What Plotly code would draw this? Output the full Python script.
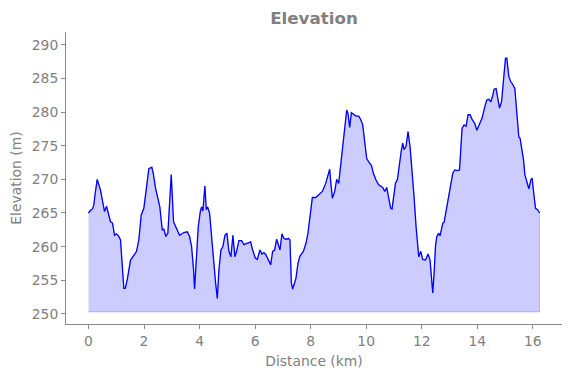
import plotly.graph_objects as go

distance_km = [
    0.000, 0.072, 0.144, 0.191, 0.241, 0.314, 0.432, 0.505, 0.577, 0.649,
    0.721, 0.793, 0.865, 0.937, 1.009, 1.081, 1.153, 1.225, 1.272, 1.323,
    1.395, 1.514, 1.632, 1.730, 1.813, 1.899, 1.993, 2.090, 2.173, 2.281,
    2.332, 2.414, 2.569, 2.656, 2.714, 2.786, 2.858, 2.919, 2.980, 3.063,
    3.135, 3.279, 3.434, 3.557, 3.640, 3.712, 3.784, 3.820, 3.881, 3.953,
    4.025, 4.072, 4.119, 4.191, 4.241, 4.288, 4.360, 4.432, 4.505, 4.577,
    4.638, 4.696, 4.768, 4.840, 4.912, 4.984, 5.056, 5.128, 5.200, 5.272,
    5.344, 5.416, 5.514, 5.596, 5.719, 5.838, 5.910, 6.007, 6.079, 6.173,
    6.245, 6.317, 6.389, 6.486, 6.559, 6.631, 6.703, 6.775, 6.822, 6.894,
    6.966, 7.038, 7.110, 7.207, 7.254, 7.305, 7.351, 7.423, 7.470, 7.542,
    7.614, 7.737, 7.831, 7.903, 7.953, 8.000, 8.061, 8.180, 8.299, 8.422,
    8.541, 8.624, 8.685, 8.721, 8.782, 8.865, 8.937, 9.009, 9.081, 9.153,
    9.225, 9.297, 9.344, 9.405, 9.467, 9.560, 9.632, 9.730, 9.802, 9.874,
    9.946, 10.018, 10.090, 10.187, 10.259, 10.353, 10.450, 10.523, 10.595, 10.667,
    10.739, 10.811, 10.883, 10.930, 10.980, 11.052, 11.124, 11.196, 11.268, 11.315,
    11.362, 11.434, 11.506, 11.578, 11.650, 11.723, 11.795, 11.845, 11.892, 11.964,
    12.036, 12.133, 12.227, 12.299, 12.350, 12.396, 12.443, 12.494, 12.541, 12.613,
    12.660, 12.710, 12.757, 12.804, 12.865, 12.948, 13.020, 13.071, 13.117, 13.189,
    13.286, 13.359, 13.405, 13.452, 13.524, 13.596, 13.668, 13.741, 13.813, 13.910,
    13.982, 14.079, 14.173, 14.270, 14.342, 14.414, 14.486, 14.559, 14.605, 14.677,
    14.728, 14.800, 14.872, 14.944, 15.016, 15.063, 15.135, 15.207, 15.279, 15.351,
    15.423, 15.495, 15.542, 15.593, 15.665, 15.712, 15.784, 15.856, 15.928, 15.975,
    16.025, 16.097, 16.170, 16.242,
]

elevation_m = [
    265.0, 265.4, 265.6, 266.2, 267.9, 270.0, 268.4, 266.7, 265.2, 266.0,
    265.0, 263.7, 263.5, 261.7, 261.9, 261.6, 261.0, 256.5, 253.8, 253.8,
    255.1, 258.0, 258.8, 259.3, 261.0, 264.7, 265.7, 268.9, 271.6, 271.8,
    270.9, 268.7, 265.9, 262.5, 262.6, 261.5, 262.0, 266.4, 270.7, 263.7,
    263.0, 261.7, 262.1, 262.2, 261.5, 260.0, 256.5, 253.7, 258.0, 263.0,
    265.2, 265.9, 265.3, 269.0, 265.5, 265.9, 265.0, 262.0, 258.0, 254.6,
    252.3, 256.5, 259.5, 260.0, 261.7, 262.0, 259.3, 258.5, 261.7, 258.5,
    259.5, 260.9, 260.9, 260.3, 260.5, 260.7, 259.5, 258.3, 258.1, 259.5,
    258.9, 259.1, 258.8, 257.8, 257.3, 259.3, 259.5, 261.1, 260.5, 259.5,
    261.9, 261.2, 261.1, 261.2, 261.0, 254.6, 253.7, 254.9, 255.3, 257.5,
    258.6, 259.3, 260.5, 262.0, 264.0, 265.7, 267.3, 267.3, 267.8, 268.2,
    269.4, 270.9, 271.5, 269.7, 267.2, 268.2, 270.0, 269.4, 271.9, 274.6,
    277.8, 280.3, 279.8, 277.7, 279.9, 279.6, 279.4, 279.4, 278.9, 278.1,
    275.9, 273.1, 272.6, 272.1, 270.9, 269.9, 269.2, 269.0, 268.8, 268.2,
    268.8, 267.2, 265.7, 265.6, 267.4, 269.4, 270.0, 272.4, 274.4, 275.4,
    274.4, 274.9, 277.1, 274.9, 271.4, 267.4, 263.0, 260.3, 258.5, 259.3,
    258.1, 258.0, 258.9, 258.0, 255.5, 253.1, 256.0, 260.0, 261.5, 262.0,
    261.6, 262.5, 263.5, 263.6, 265.0, 267.4, 268.9, 269.7, 270.9, 271.4,
    271.3, 271.4, 274.4, 277.6, 278.1, 277.9, 279.6, 279.6, 278.9, 278.3,
    277.3, 278.3, 279.1, 280.8, 281.8, 281.9, 281.5, 282.5, 283.4, 283.5,
    282.5, 280.6, 281.5, 284.5, 288.0, 288.0, 285.3, 284.5, 284.1, 283.5,
    280.1, 276.3, 276.1, 274.6, 272.9, 270.7, 269.7, 268.6, 269.9, 270.2,
    268.2, 265.7, 265.5, 265.0,
]

fill_base_m = 250.3
x_ticks = [0, 2, 4, 6, 8, 10, 12, 14, 16]
y_ticks = [250, 255, 260, 265, 270, 275, 280, 285, 290]

grey = "#808080"
font_family = "DejaVu Sans"

fig = go.Figure()

# filled area down to the base elevation
fill_x = distance_km + [distance_km[-1], distance_km[0]]
fill_y = elevation_m + [fill_base_m, fill_base_m]
fig.add_trace(go.Scatter(
    x=fill_x, y=fill_y, mode="lines", fill="toself",
    fillcolor="rgba(0,0,255,0.2)",
    line=dict(color="rgba(0,0,255,0.2)", width=1),
    hoverinfo="skip", showlegend=False,
))

fig.add_trace(go.Scatter(
    x=distance_km, y=elevation_m, mode="lines",
    line=dict(color="#0000ff", width=1.3),
    showlegend=False,
))

axis_common = dict(
    showgrid=False, zeroline=False, showline=True, linecolor="#888888",
    linewidth=1, ticks="outside", ticklen=4, tickcolor="#888888",
    automargin=False,
    tickfont=dict(family=font_family, size=13.9, color=grey),
    title_font=dict(family=font_family, size=13.9, color=grey),
)

W, H = 563, 370  # page adds an 8px body margin around the figure

fig.update_layout(
    width=W, height=H,
    margin=dict(l=58, r=9, t=24, b=54),
    paper_bgcolor="white", plot_bgcolor="white",
    title=dict(text="<b>Elevation</b>", x=0.5, xref="paper",
               y=1 - 10 / H, yref="container", yanchor="middle",
               font=dict(family=font_family, size=16.7, color=grey)),
    xaxis=dict(range=[-0.81, 17.05], tickvals=x_ticks,
               title=dict(text="Distance (km)", standoff=8), **axis_common),
    yaxis=dict(range=[248.5, 291.9], tickvals=y_ticks,
               title=dict(text="Elevation (m)", standoff=8), **axis_common),
)

fig.write_html("out.html")
